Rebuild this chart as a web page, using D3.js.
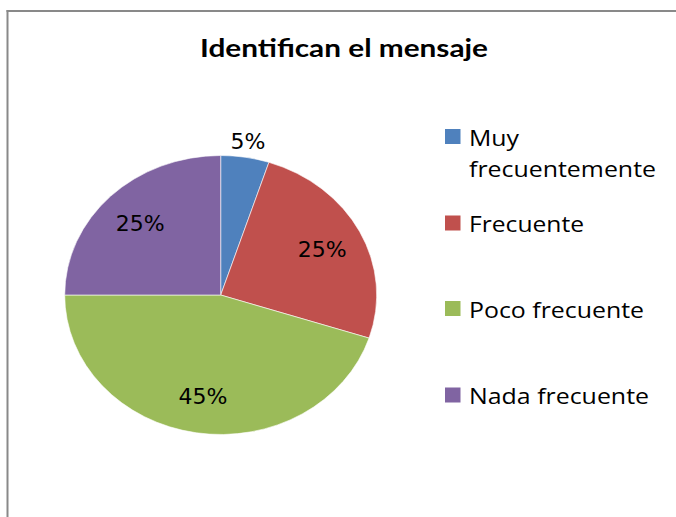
<!DOCTYPE html>
<html><head><meta charset="utf-8">
<script src="https://cdn.jsdelivr.net/npm/d3@7"></script>
<style>html,body{margin:0;padding:0;background:#fff;overflow:hidden}svg{display:block}</style>
</head><body>
<svg id="c" width="676" height="517"></svg>
<script>
const title = "Identifican el mensaje";
const categories = ["Muy frecuentemente", "Frecuente", "Poco frecuente", "Nada frecuente"];
const legendLines = [["Muy", "frecuentemente"], ["Frecuente"], ["Poco frecuente"], ["Nada frecuente"]];
const values = [5, 25, 45, 25];
const colors = ["#4F81BD", "#C0504D", "#9BBB59", "#8064A2"];

const svg = d3.select("#c");
svg.append("rect").attr("width", 676).attr("height", 517).attr("fill", "#fff");
// chart border: left and top edges only (frame continues past right and bottom)
svg.append("line").attr("x1", 7.5).attr("x2", 7.5).attr("y1", 10).attr("y2", 517)
  .attr("stroke", "#898989").attr("stroke-width", 2);
svg.append("line").attr("x1", 6.5).attr("x2", 676).attr("y1", 11).attr("y2", 11)
  .attr("stroke", "#898989").attr("stroke-width", 2);

// title
svg.append("text").attr("x", 200).attr("y", 57)
  .attr("font-family", "Lato, 'Open Sans', sans-serif").attr("font-weight", "bold")
  .attr("font-size", 25).attr("fill", "#000")
  .attr("textLength", 288).attr("lengthAdjust", "spacingAndGlyphs")
  .text(title);

// pie (elliptical)
const cx = 220.7, cy = 295, rx = 156, ry = 139.5;
const pie = d3.pie().sort(null).value(d => d)(values);
const arc = d3.arc().innerRadius(0).outerRadius(ry);
const g = svg.append("g").attr("transform", `translate(${cx},${cy})`);
g.append("g").attr("transform", `scale(${rx / ry},1)`)
  .selectAll("path").data(pie).join("path")
  .attr("d", arc).attr("fill", (d, i) => colors[i])
  .attr("stroke", "#fff").attr("stroke-width", 0.6)
  .attr("vector-effect", "non-scaling-stroke");

// data labels
const total = d3.sum(values);
g.selectAll("text.lbl").data(pie).join("text").attr("class", "lbl")
  .each(function (d) {
    const a = (d.startAngle + d.endAngle) / 2;
    const frac = d.value / total;
    const r = frac < 0.1 ? 1.12 : 0.73;
    const x = Math.sin(a) * rx * r, y = -Math.cos(a) * ry * r;
    d3.select(this).attr("x", x).attr("y", y + 8);
  })
  .attr("text-anchor", "middle")
  .attr("font-family", "'DejaVu Sans', sans-serif").attr("font-size", 22).attr("fill", "#000")
  .text(d => Math.round(d.value / total * 100) + "%");

// legend
const legendTop = [129, 215.5, 301, 387.5];
const legendWidths = [[50, 187], [115], [175], [180]];
const lg = svg.append("g");
categories.forEach((c, i) => {
  const y0 = legendTop[i];
  lg.append("rect").attr("x", 445).attr("y", y0).attr("width", 15.5).attr("height", 15)
    .attr("fill", colors[i]);
  legendLines[i].forEach((ln, j) => {
    lg.append("text").attr("x", 469).attr("y", y0 + 16.5 + j * 31)
      .attr("font-family", "'Open Sans', sans-serif").attr("font-size", 21).attr("fill", "#000")
      .attr("textLength", legendWidths[i][j]).attr("lengthAdjust", "spacingAndGlyphs")
      .text(ln);
  });
});
</script>
</body></html>
